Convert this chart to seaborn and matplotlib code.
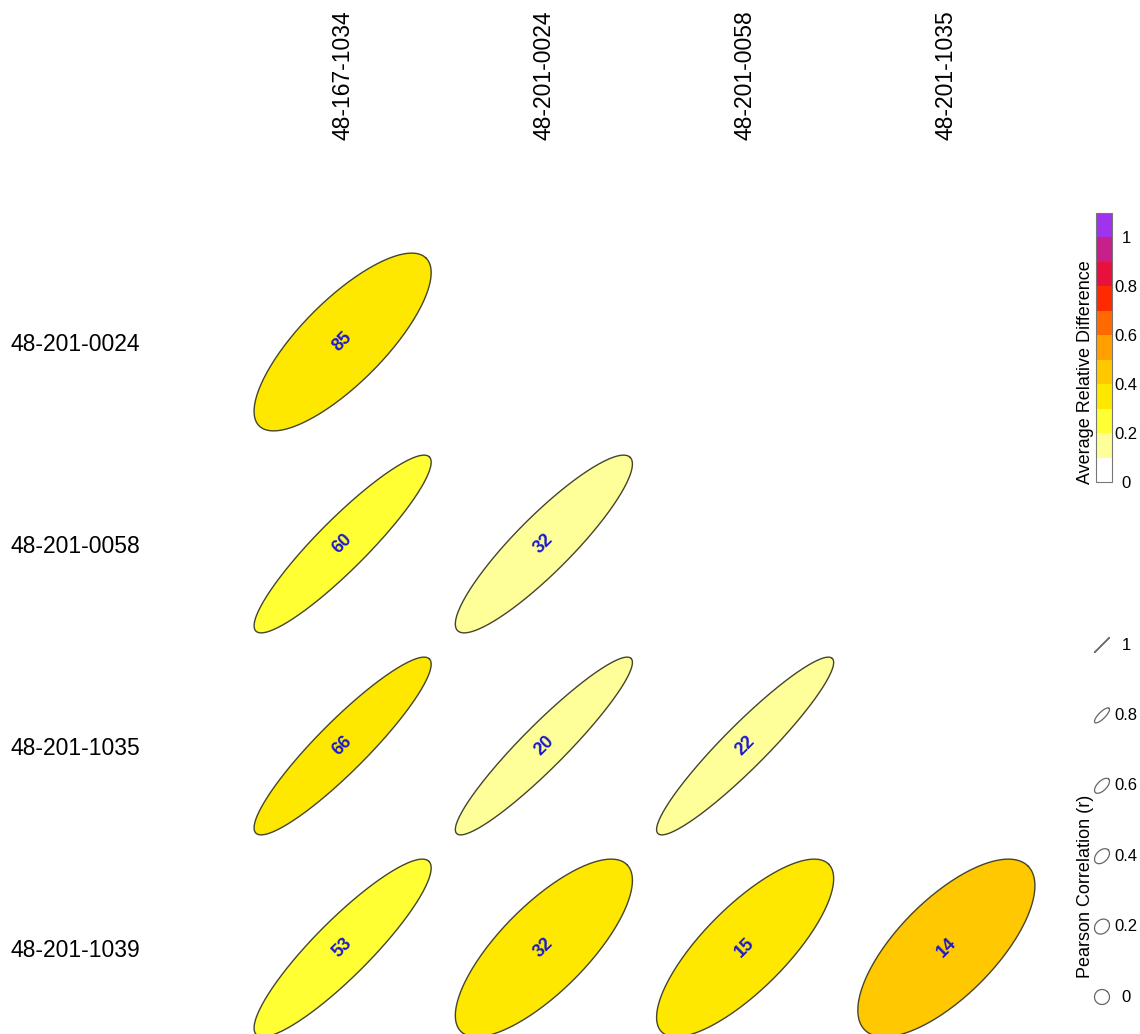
import numpy as np
import pandas as pd
import matplotlib
matplotlib.use("Agg")
import matplotlib.pyplot as plt
import seaborn as sns
from matplotlib.colors import ListedColormap, BoundaryNorm

# sites (columns top, rows left)
col_sites = ["48-167-1034", "48-201-0024", "48-201-0058", "48-201-1035"]
row_sites = ["48-201-0024", "48-201-0058", "48-201-1035", "48-201-1039"]

# lower-triangle pairs: row site, column site
pair_row = ["48-201-0024", "48-201-0058", "48-201-0058", "48-201-1035", "48-201-1035",
            "48-201-1035", "48-201-1039", "48-201-1039", "48-201-1039", "48-201-1039"]
pair_col = ["48-167-1034", "48-167-1034", "48-201-0024", "48-167-1034", "48-201-0024",
            "48-201-0058", "48-167-1034", "48-201-0024", "48-201-0058", "48-201-1035"]
pearson_r = [0.78, 0.92, 0.90, 0.92, 0.94, 0.94, 0.90, 0.76, 0.78, 0.70]
avg_rel_diff = [0.35, 0.25, 0.15, 0.35, 0.15, 0.15, 0.25, 0.35, 0.35, 0.45]
distance = [85, 60, 32, 66, 20, 22, 53, 32, 15, 14]

# colour key
ard_bounds = [0, 0.1, 0.2, 0.3, 0.4, 0.5, 0.6, 0.7, 0.8, 0.9, 1.0, 1.1]
ard_colors = ["#FFFFFF", "#FFFF99", "#FFFF33", "#FFE800", "#FFC800", "#FFA000",
              "#FF6A00", "#FF2A00", "#E8103C", "#C8208A", "#A033EE"]
ard_ticks = [0, 0.2, 0.4, 0.6, 0.8, 1]
key_r = [1, 0.8, 0.6, 0.4, 0.2, 0]

sns.set_theme(style="white")
plt.rcParams["font.family"] = ["Liberation Sans", "DejaVu Sans"]
plt.rcParams["text.color"] = "black"
plt.rcParams["xtick.color"] = "black"
plt.rcParams["ytick.color"] = "black"

cmap = ListedColormap(ard_colors)
norm = BoundaryNorm(ard_bounds, cmap.N)

W, H = 1140, 1034
fig = plt.figure(figsize=(W / 100, H / 100), dpi=100)


def px_axes(x0, y0, x1, y1):
    return fig.add_axes([x0 / W, 1 - y1 / H, (x1 - x0) / W, (y1 - y0) / H])


ax = px_axes(242, 241, 1047, 1034)

df = pd.DataFrame({"row": pair_row, "col": pair_col, "r": pearson_r,
                   "ard": avg_rel_diff, "dist": distance})
df["xi"] = df["col"].map({s: i + 1 for i, s in enumerate(col_sites)})
df["yi"] = df["row"].map({s: i + 1 for i, s in enumerate(row_sites)})
df["pair"] = df["row"] + "_" + df["col"]

# ellipse outlines from correlation (ellipse package style)
theta = np.linspace(0, 2 * np.pi, 240)
scale = 0.44
rows = []
for _, p in df.iterrows():
    d = np.arccos(p["r"])
    rows.append(pd.DataFrame({
        "pair": p["pair"],
        "x": p["xi"] + scale * np.cos(theta + d / 2),
        "y": p["yi"] - scale * np.cos(theta - d / 2),
    }))
outline = pd.concat(rows, ignore_index=True)

for _, p in df.iterrows():
    g = outline[outline["pair"] == p["pair"]]
    ax.fill(g["x"], g["y"], color=cmap(norm(p["ard"])), lw=0, zorder=1)
sns.lineplot(data=outline, x="x", y="y", units="pair", estimator=None, sort=False,
             color="#45452e", lw=1.0, ax=ax, zorder=2)
for _, p in df.iterrows():
    ax.text(p["xi"], p["yi"], str(p["dist"]), rotation=45, color="#1a1acc",
            fontsize=13, fontweight="bold", ha="center", va="center", zorder=3)

ax.set_xlim(0.5, 4.5)
ax.set_ylim(0.5 + (1034 - 241) / 202, 0.5)
ax.set_xlabel("")
ax.set_ylabel("")
for s in ax.spines.values():
    s.set_visible(False)
ax.set_xticks(range(1, 5))
ax.set_xticklabels(col_sites, rotation=90, fontsize=16.5, va="center", ha="center")
ax.xaxis.tick_top()
ax.set_yticks(range(1, 5))
ax.set_yticklabels(row_sites, fontsize=16.5, ha="left")
ax.tick_params(axis="x", length=0, pad=166 * 0.72)
ax.tick_params(axis="y", length=0, pad=232 * 0.72)

# colour bar
cax = px_axes(1096, 213, 1112, 482)
cb = fig.colorbar(plt.cm.ScalarMappable(norm=norm, cmap=cmap), cax=cax,
                  boundaries=ard_bounds, ticks=ard_ticks)
cb.set_ticklabels(["0", "0.2", "0.4", "0.6", "0.8", "1"])
cax.minorticks_off()
cax.tick_params(which="both", length=0, pad=14 * 0.72, labelsize=12)
for t in cax.get_yticklabels():
    t.set_horizontalalignment("center")
cb.outline.set_edgecolor("#777777")
cb.outline.set_linewidth(0.8)
fig.text(1086 / W, 1 - 372 / H, "Average Relative Difference", rotation=90,
         ha="center", va="center", fontsize=13)

# correlation key
kax = px_axes(1080, 620, 1140, 1020)
kax.set_xlim(1080, 1140)
kax.set_ylim(-(1020 - 997) / 352, 1 + 25 / 352)
kax.axis("off")
for r in key_r:
    d = np.arccos(r)
    kx = 1102 + 7.5 * np.cos(theta + d / 2)
    ky = r + 7.5 / 352 * np.cos(theta - d / 2)
    kax.plot(kx, ky, color="#666666", lw=0.9)
    kax.text(1126, r, f"{r:g}", ha="center", va="center", fontsize=12)
fig.text(1086 / W, 1 - 886 / H, "Pearson Correlation (r)", rotation=90,
         ha="center", va="center", fontsize=13)

fig.savefig("out.png", dpi=100)
